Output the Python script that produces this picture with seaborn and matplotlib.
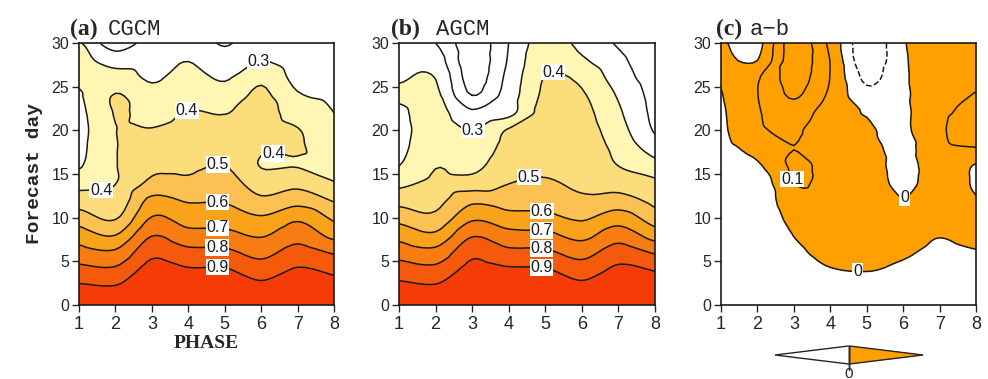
import numpy as np
import matplotlib
matplotlib.use('Agg')
import matplotlib.pyplot as plt
import matplotlib.tri as mtri
import seaborn as sns
from matplotlib.colors import ListedColormap, BoundaryNorm
from matplotlib.cm import ScalarMappable

# eixos
phases = [1, 2, 3, 4, 5, 6, 7, 8]
days = [0, 2, 4, 6, 8, 10, 12, 14, 16, 18, 20, 22, 24, 26, 28, 30]

# (a) CGCM - uma linha por fase, valores nos dias 0..30
cgcm = [
    [1.00, 0.92, 0.83, 0.74, 0.65, 0.55, 0.45, 0.36, 0.29, 0.27, 0.26, 0.27, 0.29, 0.32, 0.33, 0.31],
    [1.00, 0.91, 0.82, 0.72, 0.60, 0.49, 0.43, 0.397, 0.395, 0.395, 0.398, 0.405, 0.405, 0.34, 0.26, 0.14],
    [1.00, 0.97, 0.94, 0.875, 0.795, 0.705, 0.625, 0.52, 0.48, 0.44, 0.405, 0.37, 0.33, 0.29, 0.27, 0.25],
    [1.00, 0.95, 0.91, 0.83, 0.735, 0.655, 0.59, 0.52, 0.48, 0.455, 0.43, 0.405, 0.37, 0.335, 0.298, 0.27],
    [1.00, 0.95, 0.91, 0.825, 0.73, 0.655, 0.59, 0.545, 0.50, 0.465, 0.43, 0.397, 0.34, 0.29, 0.24, 0.19],
    [1.00, 0.93, 0.85, 0.77, 0.69, 0.61, 0.52, 0.45, 0.395, 0.41, 0.43, 0.43, 0.42, 0.38, 0.30, 0.27],
    [1.00, 0.95, 0.91, 0.84, 0.76, 0.68, 0.56, 0.47, 0.395, 0.41, 0.405, 0.36, 0.31, 0.27, 0.25, 0.24],
    [1.00, 0.94, 0.88, 0.79, 0.67, 0.58, 0.49, 0.405, 0.37, 0.345, 0.32, 0.30, 0.28, 0.26, 0.25, 0.24],
]

# (b) AGCM
agcm = [
    [1.00, 0.93, 0.85, 0.76, 0.665, 0.565, 0.465, 0.37, 0.298, 0.27, 0.26, 0.28, 0.315, 0.29, 0.26, 0.25],
    [1.00, 0.915, 0.83, 0.735, 0.62, 0.525, 0.47, 0.425, 0.395, 0.37, 0.355, 0.34, 0.32, 0.298, 0.25, 0.20],
    [1.00, 0.97, 0.935, 0.875, 0.79, 0.68, 0.575, 0.44, 0.37, 0.335, 0.30, 0.22, 0.10, 0.06, 0.04, 0.04],
    [1.00, 0.96, 0.915, 0.825, 0.735, 0.635, 0.555, 0.497, 0.465, 0.435, 0.41, 0.27, 0.25, 0.23, 0.21, 0.20],
    [1.00, 0.96, 0.91, 0.82, 0.725, 0.625, 0.565, 0.51, 0.485, 0.47, 0.455, 0.44, 0.42, 0.405, 0.38, 0.35],
    [1.00, 0.93, 0.85, 0.765, 0.67, 0.585, 0.52, 0.48, 0.475, 0.46, 0.445, 0.43, 0.41, 0.38, 0.315, 0.27],
    [1.00, 0.96, 0.92, 0.85, 0.755, 0.65, 0.54, 0.455, 0.398, 0.37, 0.34, 0.315, 0.29, 0.25, 0.22, 0.19],
    [1.00, 0.95, 0.895, 0.79, 0.655, 0.545, 0.47, 0.42, 0.335, 0.25, 0.19, 0.17, 0.16, 0.15, 0.15, 0.15],
]

# (c) a-b
diff = [
    [-0.04, -0.04, -0.04, -0.04, -0.04, -0.04, -0.04, -0.04, -0.04, -0.03, -0.02, -0.015, -0.005, 0.01, 0.02, 0.01],
    [-0.05, -0.05, -0.06, -0.07, -0.07, -0.07, -0.06, -0.06, -0.012, 0.03, 0.08, 0.09, 0.098, 0.09, 0.0, -0.03],
    [-0.05, -0.05, -0.04, -0.02, 0.002, 0.03, 0.06, 0.0998, 0.115, 0.0995, 0.115, 0.16, 0.21, 0.24, 0.25, 0.25],
    [-0.05, -0.04, -0.005, 0.025, 0.045, 0.06, 0.07, 0.075, 0.07, 0.05, 0.02, 0.04, 0.082, 0.097, 0.097, 0.076],
    [-0.05, -0.04, 0.003, 0.03, 0.05, 0.06, 0.07, 0.07, 0.06, 0.035, 0.01, -0.005, -0.07, -0.12, -0.163, -0.17],
    [-0.05, -0.04, -0.015, 0.01, 0.03, 0.03, 0.003, -0.03, -0.04, -0.03, -0.015, -0.015, -0.015, -0.015, -0.015, -0.01],
    [-0.05, -0.04, -0.03, -0.015, 0.003, 0.03, 0.05, 0.06, 0.07, 0.08, 0.085, 0.08, 0.07, 0.07, 0.07, 0.07],
    [-0.05, -0.04, -0.03, -0.005, 0.02, 0.03, 0.005, -0.015, -0.005, 0.098, 0.15, 0.125, 0.105, 0.08, 0.06, 0.05],
]

niveis_fill = [0.3, 0.4, 0.5, 0.6, 0.7, 0.8, 0.9, 2.0]
cores_fill = ['#fff6b4', '#fcdd7c', '#fbc152', '#f9a21c', '#f77c12', '#f5590c', '#f63c06']
niveis_linha = [0.1, 0.2, 0.3, 0.4, 0.5, 0.6, 0.7, 0.8, 0.9]
laranja = '#ffa000'

W, H = 988, 379


def caixa(l, t, r, b):
    return [l / W, 1 - b / H, (r - l) / W, (b - t) / H]


def rotulo(v):
    return '0' if abs(v) < 1e-9 else f'{v:g}'


def painel(ax, dados, niv_f, cores, niv_l, pos_rotulos):
    X, Y = np.meshgrid(phases, days)
    Z = np.array(dados).T
    tri = mtri.Triangulation(X.ravel(), Y.ravel())
    interp = mtri.CubicTriInterpolator(tri, Z.ravel(), kind='geom')
    tri_f, z_f = mtri.UniformTriRefiner(tri).refine_field(Z.ravel(), triinterpolator=interp, subdiv=3)
    ax.tricontourf(tri_f, z_f, levels=niv_f, colors=cores)
    cs = ax.tricontour(tri_f, z_f, levels=niv_l, colors='k', linewidths=1.1)
    lbls = ax.clabel(cs, manual=pos_rotulos, fmt=rotulo, fontsize=11.5, inline=False)
    for t in lbls:
        t.set_rotation(0)
        t.set_bbox(dict(facecolor='white', edgecolor='none', pad=0.6))
    ax.set_xlim(1, 8)
    ax.set_ylim(0, 30)
    ax.set_xticks(phases)
    ax.set_yticks([0, 5, 10, 15, 20, 25, 30])
    ax.tick_params(axis='x', labelsize=13, direction='out', length=5, width=1, pad=3)
    ax.tick_params(axis='y', labelsize=11.5, direction='out', length=5, width=1, pad=2)
    for s in ax.spines.values():
        s.set_linewidth(1.2)
        s.set_color('k')


sns.set_theme(style='ticks')
plt.rcParams['font.family'] = ['Liberation Sans', 'DejaVu Sans']
plt.rcParams['contour.negative_linestyle'] = 'dashed'

fig = plt.figure(figsize=(9.88, 3.79), dpi=100)
ax_a = fig.add_axes(caixa(79, 43, 334, 305))
ax_b = fig.add_axes(caixa(399, 43, 655, 305))
ax_c = fig.add_axes(caixa(721, 43, 976, 305))

painel(ax_a, cgcm, niveis_fill, cores_fill, niveis_linha,
       [(5.9, 28.4), (3.9, 23.0), (6.3, 17.8), (1.6, 12.9), (4.8, 16.5),
        (4.8, 11.7), (4.8, 8.8), (4.8, 6.6), (4.8, 4.3)])
painel(ax_b, agcm, niveis_fill, cores_fill, niveis_linha,
       [(3.0, 20.2), (5.2, 26.3), (4.55, 14.7), (4.9, 10.7),
        (4.9, 8.6), (4.9, 6.6), (4.9, 4.4)])
painel(ax_c, diff, [0, 2], [laranja], [-0.1, 0.0, 0.1, 0.2],
       [(2.95, 14.4), (6.05, 12.2), (4.75, 3.9)])

ax_a.set_ylabel('Forecast day', fontfamily='Liberation Mono', fontweight='bold',
                fontsize=14, labelpad=6)
ax_a.set_xlabel('PHASE', fontfamily='Liberation Serif', fontweight='bold',
                fontsize=14, labelpad=1)

# titulos dos paineis
for x1, x2, letra, nome in [(70, 108, '(a)', 'CGCM'), (391, 436, '(b)', 'AGCM'),
                            (716, 750, '(c)', 'a\u2212b')]:
    fig.text(x1 / W, 1 - 35 / H, letra, fontfamily='Liberation Serif',
             fontweight='bold', fontsize=17, va='baseline')
    fig.text(x2 / W, 1 - 35 / H, nome, fontfamily='Liberation Mono',
             fontsize=16, va='baseline')

# barra de cores do painel c
cax = fig.add_axes(caixa(775, 346, 923, 364))
cmap = ListedColormap(['white', laranja])
cmap.set_under('white')
cmap.set_over(laranja)
norm = BoundaryNorm([-1, 0, 1], cmap.N)
cb = fig.colorbar(ScalarMappable(norm=norm, cmap=cmap), cax=cax, orientation='horizontal',
                  extend='both', extendfrac=80, ticks=[0], drawedges=True)
cb.ax.tick_params(length=0, labelsize=11, pad=2)
cb.ax.set_xticklabels(['0'])
cb.outline.set_linewidth(1)
cb.dividers.set_linewidth(1)

plt.savefig('out.png', dpi=100)
